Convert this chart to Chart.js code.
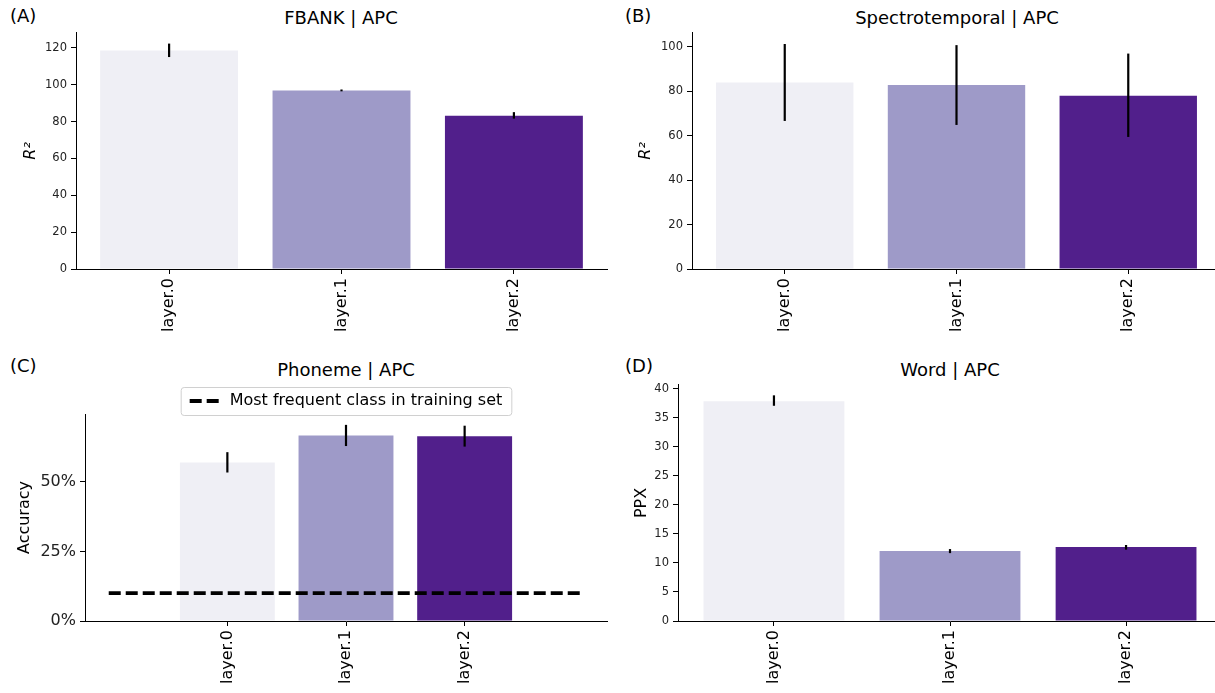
<!DOCTYPE html>
<html>
<head>
<meta charset="utf-8">
<script src="https://cdn.jsdelivr.net/npm/chart.js@4"></script>
<style>
body { margin: 0; background: #fff; overflow: hidden; font-family: "DejaVu Sans", sans-serif; }
#fig { position: relative; width: 1215px; height: 693px; overflow: hidden; }
canvas { position: absolute; }
.ttl { position: absolute; font-size: 18px; line-height: 20px; transform: translateX(-50%); white-space: nowrap; color: #000; }
.pan { position: absolute; font-size: 18px; line-height: 20px; color: #000; }
</style>
</head>
<body>
<div id="fig">
  <div class="pan" style="left:10px;top:6px">(A)</div>
  <div class="pan" style="left:625px;top:6px">(B)</div>
  <div class="pan" style="left:10px;top:356px">(C)</div>
  <div class="pan" style="left:625px;top:356px">(D)</div>
  <div class="ttl" style="left:341px;top:8px">FBANK | APC</div>
  <div class="ttl" style="left:957px;top:8px">Spectrotemporal | APC</div>
  <div class="ttl" style="left:346px;top:360px">Phoneme | APC</div>
  <div class="ttl" style="left:950px;top:360px">Word | APC</div>
  <canvas id="chartA" width="615" height="322" style="left:0px;top:22px"></canvas>
  <canvas id="chartB" width="614" height="322" style="left:615px;top:22px"></canvas>
  <canvas id="chartC" width="615" height="315" style="left:0px;top:378px"></canvas>
  <canvas id="chartD" width="615" height="319" style="left:615px;top:374px"></canvas>
</div>
<script>
// categories and colours
const layers = ['layer.0', 'layer.1', 'layer.2'];
const barColors = ['#efeff5', '#9e9ac8', '#511f8b'];

// (A) FBANK R^2
const fbankR2 = [118.5, 96.9, 83.2];
const fbankLow = [115.0, 96.4, 81.6];
const fbankHigh = [122.3, 97.4, 85.1];
const fbankTicks = [0, 20, 40, 60, 80, 100, 120];

// (B) Spectrotemporal R^2
const spectroR2 = [83.9, 82.8, 77.9];
const spectroLow = [66.6, 64.8, 59.4];
const spectroHigh = [101.2, 100.7, 96.9];
const spectroTicks = [0, 20, 40, 60, 80, 100];

// (C) Phoneme accuracy (%)
const phonemeAcc = [56.9, 66.6, 66.3];
const phonemeLow = [53.3, 62.8, 62.6];
const phonemeHigh = [60.6, 70.4, 70.1];
const baselineX = [-1, 3];
const baselineY = [10.0, 10.0];
const phonemeTicks = [0, 25, 50];

// (D) Word perplexity
const wordPPX = [37.9, 12.06, 12.74];
const wordLow = [37.1, 11.7, 12.3];
const wordHigh = [38.9, 12.4, 13.1];
const wordTicks = [0, 5, 10, 15, 20, 25, 30, 35, 40];

Chart.defaults.font.family = '"DejaVu Sans", sans-serif';
Chart.defaults.color = '#222';

// vertical error bars on top of the bars
const errorBars = {
  id: 'errorBars',
  afterDatasetsDraw(chart, args, opts) {
    if (!opts.low) return;
    const meta = chart.getDatasetMeta(0);
    const y = chart.scales.y;
    const ctx = chart.ctx;
    ctx.save();
    ctx.strokeStyle = '#000';
    ctx.lineWidth = 2.2;
    meta.data.forEach((bar, i) => {
      ctx.beginPath();
      ctx.moveTo(bar.x, y.getPixelForValue(opts.low[i]));
      ctx.lineTo(bar.x, y.getPixelForValue(opts.high[i]));
      ctx.stroke();
    });
    ctx.restore();
  }
};

// matplotlib-like legend: nudged down onto the axes and framed
const legendFrame = {
  id: 'legendFrame',
  afterLayout(chart) {
    const lg = chart.legend;
    if (!lg || !lg.options.display) return;
    lg.top += 5;
    lg.bottom += 5;
  },
  afterDraw(chart) {
    const lg = chart.legend;
    if (!lg || !lg.options.display || !lg.legendHitBoxes.length) return;
    const hb = lg.legendHitBoxes[0];
    const ctx = chart.ctx;
    const x = hb.left - 9, y = hb.top - 6, w = hb.width + 18, h = hb.height + 12;
    ctx.save();
    ctx.strokeStyle = '#d0d0d0';
    ctx.lineWidth = 1;
    ctx.beginPath();
    ctx.roundRect(x + 0.5, y + 0.5, w, h, 3);
    ctx.stroke();
    ctx.restore();
  }
};

function makeChart(id, cfg) {
  const datasets = [{
    type: 'bar',
    data: cfg.values.map((v, i) => ({ x: i, y: v })),
    backgroundColor: barColors,
    categoryPercentage: 1,
    barPercentage: 0.8,
    order: 1
  }];
  if (cfg.extra) datasets.push(cfg.extra);

  return new Chart(document.getElementById(id), {
    type: 'bar',
    data: { datasets: datasets },
    plugins: [errorBars, legendFrame],
    options: {
      responsive: false,
      animation: false,
      devicePixelRatio: 1,
      layout: { padding: { top: cfg.padTop, right: cfg.padRight, bottom: 0, left: 0 } },
      plugins: {
        tooltip: { enabled: false },
        legend: cfg.legend || { display: false },
        errorBars: { low: cfg.low, high: cfg.high }
      },
      scales: {
        x: {
          type: 'linear',
          min: cfg.xMin,
          max: cfg.xMax,
          offset: false,
          afterBuildTicks: s => { s.ticks = layers.map((_, i) => ({ value: i })); },
          afterFit: s => { s.height = cfg.xHeight; },
          grid: { drawOnChartArea: false, tickLength: 5, color: '#000', offset: false },
          border: { color: '#000', width: 1 },
          ticks: {
            autoSkip: false, maxRotation: 90, minRotation: 90, padding: 4,
            color: '#000', font: { size: 16 },
            callback: v => layers[v]
          }
        },
        y: {
          min: 0,
          max: cfg.yMax,
          afterBuildTicks: s => { s.ticks = cfg.yTicks.map(v => ({ value: v })); },
          afterFit: s => { s.width = cfg.yWidth; },
          grid: { drawOnChartArea: false, tickLength: 5, color: '#000' },
          border: { color: '#000', width: 1 },
          ticks: {
            padding: 4, color: '#222',
            font: { size: cfg.tickSize || 11.5 },
            callback: cfg.tickFmt || (v => v)
          },
          title: {
            display: true, text: cfg.yTitle, color: '#000',
            font: { size: 16, style: cfg.yTitleStyle || 'normal' },
            padding: { top: cfg.yTitlePad, bottom: 0 }
          }
        }
      }
    }
  });
}

makeChart('chartA', {
  values: fbankR2, low: fbankLow, high: fbankHigh,
  xMin: -0.54, xMax: 2.54, yMax: 128.1, yTicks: fbankTicks,
  yTitle: 'R²', yTitleStyle: 'italic', yTitlePad: 21,
  yWidth: 76, xHeight: 75, padTop: 10, padRight: 8
});

makeChart('chartB', {
  values: spectroR2, low: spectroLow, high: spectroHigh,
  xMin: -0.54, xMax: 2.54, yMax: 106.2, yTicks: spectroTicks,
  yTitle: 'R²', yTitleStyle: 'italic', yTitlePad: 21,
  yWidth: 77, xHeight: 75, padTop: 10, padRight: 8
});

makeChart('chartC', {
  values: phonemeAcc, low: phonemeLow, high: phonemeHigh,
  xMin: -1.2, xMax: 3.2, yMax: 74.3, yTicks: phonemeTicks,
  tickSize: 16, tickFmt: v => v + '%',
  yTitle: 'Accuracy', yTitlePad: 15,
  yWidth: 85, xHeight: 72, padTop: 4, padRight: 8,
  extra: {
    type: 'line',
    label: 'Most frequent class in training set',
    data: baselineX.map((x, i) => ({ x: x, y: baselineY[i] })),
    borderColor: '#000',
    backgroundColor: '#000',
    borderWidth: 3.8,
    borderDash: [12, 5],
    pointRadius: 0,
    fill: false,
    order: 0
  },
  legend: {
    display: true,
    fullSize: false,
    labels: {
      usePointStyle: true,
      pointStyle: 'line',
      pointStyleWidth: 32,
      padding: 6,
      color: '#000',
      font: { size: 16 },
      // keep the dash of the line dataset in the legend sample
      generateLabels: chart => Chart.defaults.plugins.legend.labels.generateLabels(chart)
        .filter(item => chart.data.datasets[item.datasetIndex].label)
        .map(item => {
          const ds = chart.data.datasets[item.datasetIndex];
          return Object.assign(item, { lineDash: ds.borderDash, lineWidth: ds.borderWidth, strokeStyle: ds.borderColor });
        })
    }
  }
});

makeChart('chartD', {
  values: wordPPX, low: wordLow, high: wordHigh,
  xMin: -0.545, xMax: 2.545, yMax: 40.7, yTicks: wordTicks,
  yTitle: 'PPX', yTitlePad: 17,
  yWidth: 63, xHeight: 72, padTop: 10, padRight: 8
});
</script>
</body>
</html>
